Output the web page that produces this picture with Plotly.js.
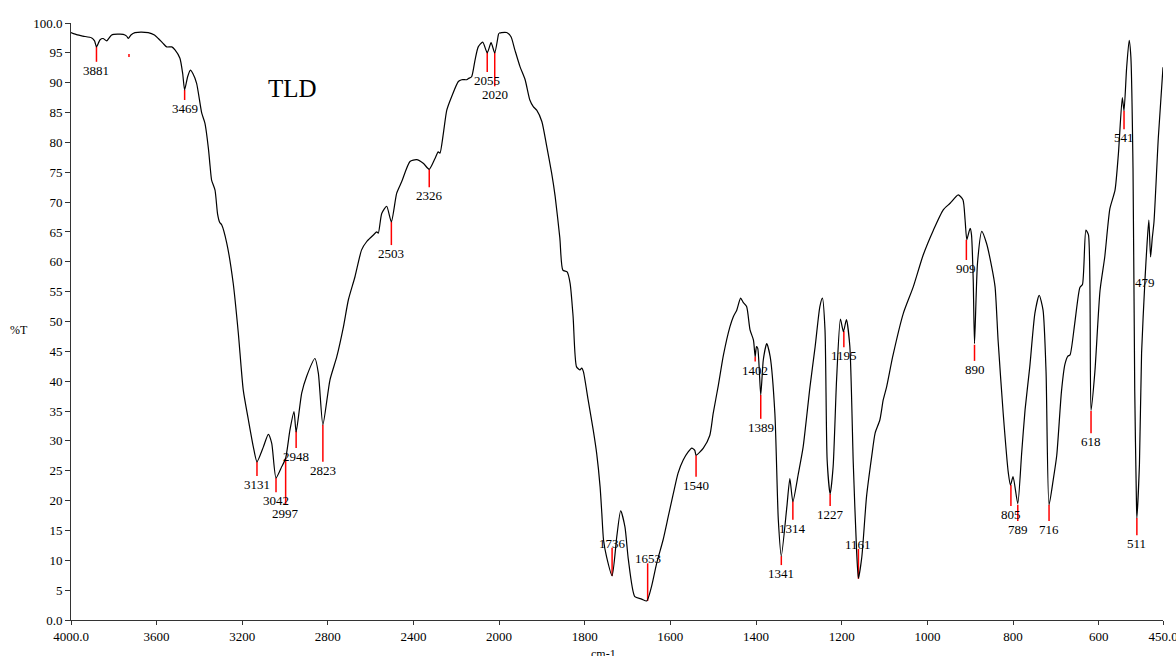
<!DOCTYPE html>
<html>
<head>
<meta charset="utf-8">
<script src="https://cdn.plot.ly/plotly-3.0.1.min.js"></script>
<style>
  html, body { margin: 0; padding: 0; background: #ffffff; }
  #chart { width: 1176px; height: 656px; }
</style>
</head>
<body>
<div id="chart"></div>
<script>
// ---------------- DATA ----------------
const wavenumber = [
  4000, 3970, 3944, 3903, 3890, 3881, 3870, 3864, 3850, 3833, 3810, 3756, 3740, 3732, 3720, 3701,
  3639, 3610, 3592, 3570, 3553, 3529, 3514, 3491, 3478, 3469, 3455, 3442, 3430, 3413, 3389, 3374,
  3358, 3350, 3343, 3327, 3315, 3305, 3296, 3272, 3242, 3218, 3195, 3171, 3148, 3131, 3101, 3078,
  3062, 3042, 3015, 2997, 2977, 2958, 2948, 2922, 2899, 2860, 2844, 2823, 2790, 2758, 2727, 2704,
  2673, 2642, 2618, 2587, 2571, 2564, 2548, 2525, 2503, 2478, 2455, 2416, 2385, 2354, 2326, 2299,
  2284, 2276, 2260, 2244, 2221, 2190, 2174, 2151, 2143, 2128, 2112, 2097, 2076, 2055, 2037, 2020,
  2003, 2000, 1994, 1982, 1972, 1963, 1951, 1939, 1928, 1920, 1912, 1900, 1889, 1877, 1869, 1858,
  1851, 1841, 1834, 1827, 1819, 1811, 1807, 1803, 1792, 1780, 1772, 1764, 1760, 1756, 1749, 1736,
  1725, 1716, 1706, 1698, 1683, 1667, 1655, 1644, 1632, 1617, 1605, 1593, 1582, 1570, 1558, 1550,
  1543, 1540, 1523, 1508, 1500, 1488, 1476, 1461, 1453, 1445, 1436, 1430, 1422, 1414, 1406, 1402,
  1399, 1396, 1389, 1383, 1375, 1367, 1356, 1348, 1341, 1328, 1321, 1314, 1301, 1290, 1274, 1262,
  1251, 1245, 1239, 1234, 1227, 1220, 1212, 1203, 1196, 1189, 1181, 1173, 1165, 1161, 1153, 1142,
  1130, 1122, 1111, 1103, 1095, 1081, 1056, 1033, 1010, 986, 963, 947, 928, 917, 912, 908,
  903, 900, 897, 893, 890, 883, 873, 862, 850, 842, 835, 823, 811, 806, 800, 789,
  780, 772, 761, 749, 739, 730, 723, 716, 706, 698, 687, 679, 672, 667, 656, 644,
  638, 630, 624, 618, 609, 597, 586, 574, 562, 554, 545, 541, 535, 529, 525, 520,
  516, 512, 511, 505, 500, 492, 487, 483, 479, 475, 471, 461, 450
];
const transmittance = [
  98.4, 98.0, 97.8, 97.5, 97.0, 96.0, 96.8, 97.2, 97.4, 97.0, 98.0, 98.1, 97.8, 97.4, 98.0, 98.4,
  98.4, 98.0, 97.4, 96.6, 96.0, 96.0, 95.5, 94.1, 91.5, 88.8, 91.0, 92.1, 91.5, 89.9, 84.9, 83.2,
  79.0, 76.0, 73.7, 72.0, 68.0, 66.6, 66.2, 63.1, 56.4, 48.0, 38.5, 33.5, 29.0, 26.5, 29.0, 31.1,
  29.6, 23.8, 25.7, 27.1, 31.8, 34.9, 31.5, 38.0, 40.8, 43.8, 41.3, 32.7, 40.2, 44.1, 49.1, 53.6,
  57.5, 62.0, 63.4, 64.5, 65.0, 64.8, 68.1, 69.3, 66.7, 71.5, 73.4, 76.8, 77.1, 76.5, 75.5, 77.3,
  78.4, 78.2, 81.5, 85.4, 87.7, 90.2, 90.5, 90.5, 90.7, 91.0, 93.8, 96.0, 96.8, 95.0, 96.7, 95.0,
  98.0, 98.3, 98.4, 98.4, 97.7, 95.5, 92.7, 90.5, 87.1, 86.0, 85.4, 83.5, 79.5, 74.8, 71.0, 64.0,
  58.6, 58.3, 56.4, 50.8, 42.4, 41.9, 42.2, 41.6, 36.9, 31.8, 27.9, 22.3, 17.9, 13.4, 10.6, 7.4,
  14.0, 18.3, 15.6, 10.1, 3.9, 3.5, 3.2, 5.6, 9.5, 13.4, 17.3, 21.2, 24.6, 26.8, 28.2, 28.8,
  28.4, 27.6, 28.8, 30.9, 34.6, 39.3, 44.4, 49.1, 50.8, 51.9, 53.9, 53.2, 52.5, 48.6, 46.9, 44.1,
  45.8, 45.5, 37.7, 43.6, 46.3, 44.1, 34.6, 16.8, 10.7, 19.0, 23.7, 19.8, 24.6, 29.0, 39.1, 45.8,
  52.5, 53.9, 48.6, 26.8, 21.1, 25.7, 40.2, 50.4, 48.3, 50.3, 45.8, 26.2, 11.2, 7.0, 10.6, 20.7,
  27.4, 31.3, 33.5, 36.9, 39.1, 44.1, 51.4, 55.8, 61.1, 65.3, 68.7, 69.8, 71.2, 70.4, 67.0, 63.7,
  65.0, 65.6, 64.5, 57.0, 46.3, 59.8, 65.1, 63.1, 59.2, 55.8, 46.9, 34.6, 24.6, 22.6, 24.0, 19.5,
  27.9, 35.2, 42.4, 51.4, 54.4, 51.9, 41.6, 19.3, 23.6, 27.6, 38.3, 42.8, 44.2, 44.4, 49.7, 55.7,
  56.2, 65.3, 64.5, 35.1, 41.6, 55.2, 60.8, 68.9, 72.0, 78.2, 87.5, 85.3, 92.4, 97.1, 94.3, 75.7,
  38.5, 19.8, 17.1, 26.1, 44.7, 57.1, 63.3, 67.0, 60.8, 64.0, 66.7, 80.7, 92.6
];

// Peak picks: wavenumber, %T where the red marker starts, %T where it ends, label side
const peakWn     = [3881, 3729, 3469, 3131, 3042, 2997, 2948, 2823, 2503, 2326, 2055, 2020,
                    1736, 1653, 1540, 1402, 1389, 1341, 1314, 1227, 1195, 1161,
                    909, 890, 805, 789, 716, 618, 541, 511, 479];
const peakLabels = ['3881', '', '3469', '3131', '3042', '2997', '2948', '2823', '2503', '2326', '2055', '2020',
                    '1736', '1653', '1540', '1402', '1389', '1341', '1314', '1227', '1195', '1161',
                    '909', '890', '805', '789', '716', '618', '541', '511', '479'];
const peakStart  = [96.0, 94.8, 88.8, 26.5, 23.8, 27.1, 31.7, 32.7, 66.7, 75.5, 95.1, 95.1,
                    7.4, 3.2, 27.6, 44.1, 37.7, 10.7, 19.9, 21.1, 48.4, 6.9,
                    63.7, 46.1, 22.6, 19.3, 19.3, 35.0, 85.3, 17.1, 58.0];
const peakEnd    = [93.5, 94.3, 87.1, 24.1, 21.4, 19.3, 28.8, 26.5, 62.8, 72.5, 91.8, 89.4,
                    12.1, 9.5, 24.0, 43.3, 33.7, 9.2, 16.8, 19.1, 45.7, 11.9,
                    60.3, 43.4, 19.1, 16.6, 16.6, 31.3, 82.2, 14.2, 58.0];
const peakSide   = ['below', 'below', 'below', 'below', 'below', 'below', 'below', 'below', 'below', 'below', 'below', 'below',
                    'above', 'above', 'below', 'below', 'below', 'below', 'below', 'below', 'below', 'above',
                    'below', 'below', 'below', 'below', 'below', 'below', 'below', 'below', 'below'];

const yTickVals  = [0, 5, 10, 15, 20, 25, 30, 35, 40, 45, 50, 55, 60, 65, 70, 75, 80, 85, 90, 95, 100];
const yTickText  = ['0.0', '5', '10', '15', '20', '25', '30', '35', '40', '45', '50', '55', '60', '65', '70', '75', '80', '85', '90', '95', '100.0'];
const xTickValsHigh = [4000, 3600, 3200, 2800, 2400, 2000];
const xTickTextHigh = ['4000.0', '3600', '3200', '2800', '2400', '2000'];
const xTickValsLow  = [1800, 1600, 1400, 1200, 1000, 800, 600, 450];
const xTickTextLow  = ['1800', '1600', '1400', '1200', '1000', '800', '600', '450.0'];

const sampleName = 'TLD';
const xTitle = 'cm-1';
const yTitle = '%T';

// ---------------- STYLE / LAYOUT ----------------
const SPLIT = 2000;            // scale changes (x2) below 2000 cm-1
const FONT = 'Liberation Serif, Times New Roman, serif';
const labelNudge = {479: -6};  // px

// spectrum split in two panels sharing the same y axis
function pick(cond) {
  const xs = [], ys = [];
  wavenumber.forEach((w, i) => { if (cond(w)) { xs.push(w); ys.push(transmittance[i]); } });
  return {xs, ys};
}
const hi = pick(w => w >= SPLIT);
const lo = pick(w => w <= SPLIT);

function markers(cond) {
  const xs = [], ys = [];
  peakWn.forEach((w, i) => {
    if (!cond(w) || peakStart[i] === peakEnd[i]) return;
    xs.push(w, w, null); ys.push(peakStart[i], peakEnd[i], null);
  });
  return {xs, ys};
}
const mHi = markers(w => w > SPLIT);
const mLo = markers(w => w <= SPLIT);

const traces = [
  {x: mHi.xs, y: mHi.ys, xaxis: 'x', yaxis: 'y', mode: 'lines', line: {color: '#ff0000', width: 1.5}, hoverinfo: 'skip', showlegend: false},
  {x: mLo.xs, y: mLo.ys, xaxis: 'x2', yaxis: 'y', mode: 'lines', line: {color: '#ff0000', width: 1.5}, hoverinfo: 'skip', showlegend: false},
  {x: hi.xs, y: hi.ys, xaxis: 'x', yaxis: 'y', mode: 'lines', line: {color: '#000000', width: 1.2, shape: 'spline', smoothing: 0.6}, showlegend: false},
  {x: lo.xs, y: lo.ys, xaxis: 'x2', yaxis: 'y', mode: 'lines', line: {color: '#000000', width: 1.2, shape: 'spline', smoothing: 0.6}, showlegend: false}
];

const annotations = peakWn.map((w, i) => ({
  x: w, y: peakEnd[i],
  xref: w > SPLIT ? 'x' : 'x2', yref: 'y',
  text: peakLabels[i], showarrow: false,
  xanchor: 'center',
  yanchor: peakSide[i] === 'above' ? 'bottom' : 'top',
  yshift: peakSide[i] === 'above' ? -5 : 1,
  xshift: labelNudge[w] || 0,
  font: {family: FONT, size: 13, color: '#000'}
})).filter(a => a.text !== '');

annotations.push({
  x: 2967, y: 89, xref: 'x', yref: 'y', text: sampleName, showarrow: false,
  xanchor: 'center', yanchor: 'middle', font: {family: FONT, size: 25, color: '#000'}
});
annotations.push({
  x: -0.048, y: 0.486, xref: 'paper', yref: 'paper', text: yTitle, showarrow: false,
  xanchor: 'center', yanchor: 'middle', font: {family: FONT, size: 12, color: '#000'}
});
annotations.push({
  x: 0.4875, y: -0.042, xref: 'paper', yref: 'paper', text: xTitle, showarrow: false,
  xanchor: 'center', yanchor: 'top', font: {family: FONT, size: 12, color: '#000'}
});

const plotLeft = 71, plotRight = 1163;
const splitFrac = 428 / (plotRight - plotLeft);

const axisCommon = {
  showgrid: false, zeroline: false, showline: true, linecolor: '#333', linewidth: 1,
  ticks: 'outside', ticklen: 4, tickwidth: 1, tickcolor: '#333',
  tickfont: {family: FONT, size: 13, color: '#000'}, fixedrange: true,
  ticklabeloverflow: 'allow'
};

const layout = {
  width: 1176, height: 656,
  margin: {l: 71, r: 13, t: 23, b: 36, pad: 0},
  paper_bgcolor: '#ffffff', plot_bgcolor: '#ffffff',
  showlegend: false,
  xaxis: Object.assign({}, axisCommon, {
    domain: [0, splitFrac], range: [4000, SPLIT], anchor: 'y',
    tickmode: 'array', tickvals: xTickValsHigh, ticktext: xTickTextHigh
  }),
  xaxis2: Object.assign({}, axisCommon, {
    domain: [splitFrac, 1], range: [SPLIT, 450], anchor: 'y',
    tickmode: 'array', tickvals: xTickValsLow, ticktext: xTickTextLow
  }),
  yaxis: Object.assign({}, axisCommon, {
    range: [0, 100], anchor: 'x', ticklen: 5,
    tickmode: 'array', tickvals: yTickVals, ticktext: yTickText
  }),
  annotations: annotations
};

Plotly.newPlot('chart', traces, layout, {displayModeBar: false, staticPlot: true});
</script>
</body>
</html>
